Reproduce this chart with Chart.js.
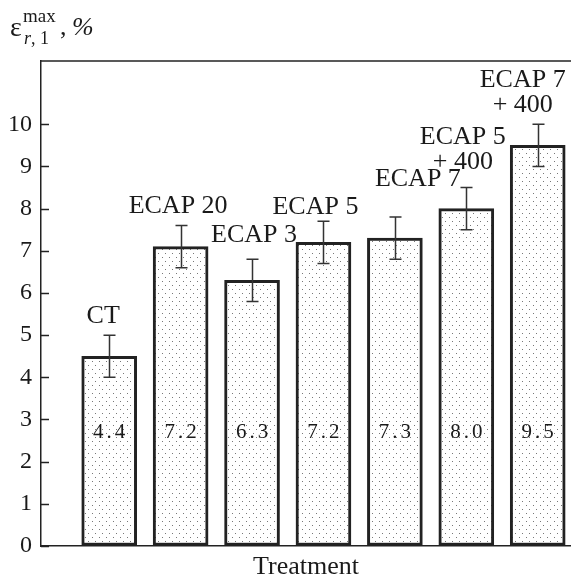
<!DOCTYPE html>
<html>
<head>
<meta charset="utf-8">
<script src="https://cdn.jsdelivr.net/npm/chart.js@4/dist/chart.umd.min.js"></script>
<style>
html,body{margin:0;padding:0;background:#fff;}
canvas{display:block;}
</style>
</head>
<body>
<canvas id="c" width="571" height="580"></canvas>
<script>
// ---- data ----
const categories = [['CT'], ['ECAP 20'], ['ECAP 3'], ['ECAP 5'], ['ECAP 7'], ['ECAP 5', '+ 400'], ['ECAP 7', '+ 400']];
const values = [4.5, 7.1, 6.3, 7.2, 7.3, 8.0, 9.5];
const errors = [0.5, 0.5, 0.5, 0.5, 0.5, 0.5, 0.5];
const insideLabels = ['4.4', '7.2', '6.3', '7.2', '7.3', '8.0', '9.5'];
const yTickValues = [0, 1, 2, 3, 4, 5, 6, 7, 8, 9, 10];

// ---- layout / style constants ----
const labelShift = [[-6, -12], [-2.5, -12], [2, -17.5], [-8, -7.5], [23, -31], [-3.5, -19], [-15, -12]];
const insideLabelValue = 2.7;
const FONT = '"Liberation Serif", "Times New Roman", serif';
const INK = '#1a1a1a';

// dotted fill pattern
const tile = document.createElement('canvas');
tile.width = 7; tile.height = 8;
const tc = tile.getContext('2d');
tc.fillStyle = '#fff'; tc.fillRect(0, 0, 7, 8);
tc.fillStyle = '#777';
tc.fillRect(1, 1, 1, 1);
tc.fillRect(4, 5, 1, 1);
const ctx = document.getElementById('c').getContext('2d');
const dotPattern = ctx.createPattern(tile, 'repeat');

const decorPlugin = {
  id: 'decor',
  afterDatasetsDraw(chart) {
    const {ctx, chartArea: a, scales: {x, y}} = chart;
    ctx.save();
    // top frame line
    ctx.strokeStyle = '#222'; ctx.lineWidth = 1.5;
    ctx.beginPath(); ctx.moveTo(a.left, a.top); ctx.lineTo(a.right, a.top); ctx.stroke();
    // inner y ticks
    yTickValues.forEach(v => {
      const py = Math.round(y.getPixelForValue(v)) + 0.5;
      ctx.beginPath(); ctx.moveTo(a.left, py); ctx.lineTo(a.left + 8, py); ctx.stroke();
    });
    // error bars
    ctx.strokeStyle = '#333'; ctx.lineWidth = 1.5;
    values.forEach((v, i) => {
      const px = Math.round(x.getPixelForValue(i + 1)) + 0.5;
      const t = y.getPixelForValue(v + errors[i]);
      const b = y.getPixelForValue(v - errors[i]);
      ctx.beginPath();
      ctx.moveTo(px, t); ctx.lineTo(px, b);
      ctx.moveTo(px - 6, t); ctx.lineTo(px + 6, t);
      ctx.moveTo(px - 6, b); ctx.lineTo(px + 6, b);
      ctx.stroke();
    });
    // category labels above bars
    ctx.fillStyle = INK;
    ctx.font = '26px ' + FONT;
    ctx.textAlign = 'center';
    ctx.textBaseline = 'alphabetic';
    categories.forEach((lines, i) => {
      const cx = x.getPixelForValue(i + 1) + labelShift[i][0];
      const base = y.getPixelForValue(values[i] + errors[i]) + labelShift[i][1];
      lines.forEach((ln, k) => {
        ctx.fillText(ln, cx, base - (lines.length - 1 - k) * 25);
      });
    });
    // value labels inside bars
    ctx.font = '21px ' + FONT;
    ctx.textBaseline = 'middle';
    try { ctx.letterSpacing = '3px'; } catch (e) {}
    insideLabels.forEach((t, i) => {
      const cx = x.getPixelForValue(i + 1) + 1.5;
      ctx.fillText(t, cx, y.getPixelForValue(insideLabelValue));
    });
    try { ctx.letterSpacing = '0px'; } catch (e) {}
    // y-axis title: epsilon^max_{r,1}, %
    ctx.textAlign = 'left';
    ctx.textBaseline = 'alphabetic';
    ctx.font = '28px ' + FONT;
    ctx.fillText('\u03b5', 10, 36);
    ctx.font = '19px ' + FONT;
    ctx.fillText('max', 23, 21.5);
    ctx.font = 'italic 18px ' + FONT;
    ctx.fillText('r', 24, 44);
    ctx.font = '18px ' + FONT;
    ctx.fillText(', 1', 31, 44);
    ctx.font = '26px ' + FONT;
    ctx.fillText(',', 60, 35);
    ctx.font = 'italic 26px ' + FONT;
    ctx.fillText('%', 72, 35);
    ctx.restore();
  }
};

new Chart(ctx, {
  type: 'bar',
  data: {
    datasets: [{
      data: values.map((v, i) => ({x: i + 1, y: v})),
      backgroundColor: dotPattern,
      borderColor: '#222',
      borderWidth: 3,
      borderSkipped: false,
      barThickness: 55
    }]
  },
  options: {
    responsive: false,
    animation: false,
    events: [],
    layout: {padding: {top: 61, left: 0, right: 0, bottom: 0}},
    plugins: {legend: {display: false}, tooltip: {enabled: false}},
    scales: {
      x: {
        type: 'linear',
        offset: false,
        min: 0.045,
        max: 7.466,
        afterFit(s) { s.height = 34; },
        grid: {display: true, drawOnChartArea: false, drawTicks: false, offset: false},
        border: {display: true, color: '#222', width: 1.5},
        ticks: {display: false},
        title: {display: true, text: 'Treatment', color: INK, padding: 0,
                font: {family: FONT, size: 26, lineHeight: 1}}
      },
      y: {
        min: 0,
        max: 11.5,
        afterFit(s) { s.width = 41; },
        afterBuildTicks(s) { s.ticks = yTickValues.map(v => ({value: v})); },
        grid: {display: true, drawOnChartArea: false, drawTicks: false},
        border: {display: true, color: '#222', width: 1.5},
        ticks: {padding: 9, color: INK, font: {family: FONT, size: 24},
                callback: v => String(v)}
      }
    }
  },
  plugins: [decorPlugin]
});
</script>
</body>
</html>
